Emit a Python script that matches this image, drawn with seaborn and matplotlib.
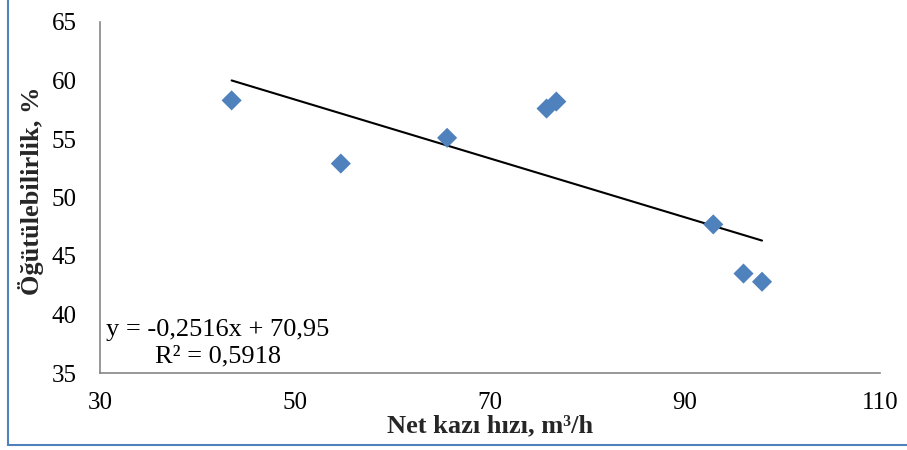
import numpy as np
import pandas as pd
import seaborn as sns
import matplotlib
matplotlib.use("Agg")
import matplotlib.pyplot as plt
from matplotlib.lines import Line2D

# Measured pairs: net excavation rate vs. grindability
net_kazi_hizi = [43.5, 54.7, 65.6, 75.8, 76.8, 92.9, 96.0, 97.9]
ogutulebilirlik = [58.3, 52.9, 55.1, 57.6, 58.2, 47.7, 43.5, 42.8]

# Linear trend line coefficients as reported on the chart
slope = -0.2516
intercept = 70.95
r_squared = 0.5918

x_ticks = [30, 50, 70, 90, 110]
y_ticks = [35, 40, 45, 50, 55, 60, 65]

sns.set_theme(style="white")
plt.rcParams["font.family"] = ["Liberation Serif", "DejaVu Serif"]

df = pd.DataFrame({"x": net_kazi_hizi, "y": ogutulebilirlik})
trend_x = [min(net_kazi_hizi), max(net_kazi_hizi)]
trend = pd.DataFrame({"x": trend_x, "y": [slope * v + intercept for v in trend_x]})

fig = plt.figure(figsize=(9.07, 4.5), dpi=100)
ax = fig.add_axes([100 / 907, 1 - 373 / 450, 780 / 907, 351 / 450])

sns.lineplot(data=trend, x="x", y="y", ax=ax, color="black", linewidth=1.5, zorder=2)
sns.scatterplot(data=df, x="x", y="y", ax=ax, marker="D", s=105,
                color="#4F81BD", edgecolor="none", linewidth=0, zorder=3)

ax.set_xlim(30, 110)
ax.set_ylim(35, 65)
ax.set_xticks(x_ticks)
ax.set_yticks(y_ticks)
ax.tick_params(axis="both", length=0, labelsize=18, colors="black")
ax.tick_params(axis="x", pad=14)
ax.tick_params(axis="y", pad=17)

for side in ("top", "right"):
    ax.spines[side].set_visible(False)
for side in ("left", "bottom"):
    ax.spines[side].set_color("#868686")
    ax.spines[side].set_linewidth(1.2)

ax.set_xlabel("Net kazı hızı, m³/h", fontsize=19, fontweight="bold", labelpad=0)
ax.set_ylabel("Öğütülebilirlik, %", fontsize=19, fontweight="bold")
ax.yaxis.set_label_coords(-0.072, 0.518)

eq_text = f"y = {slope:.4f}x + {intercept:.2f}".replace(".", ",") + "\n" + \
          f"R² = {r_squared:.4f}".replace(".", ",")
ax.text(0.151, 0.085, eq_text, transform=ax.transAxes, ha="center", va="center",
        multialignment="center", fontsize=19, linespacing=1.25, color="black")

# Chart frame
frame_color = "#4F81BD"
fig.add_artist(Line2D([8 / 907, 8 / 907], [1 - 445 / 450, 1.0], transform=fig.transFigure,
                      color=frame_color, linewidth=1.5))
fig.add_artist(Line2D([8 / 907, 1.0], [1 - 445 / 450, 1 - 445 / 450], transform=fig.transFigure,
                      color=frame_color, linewidth=1.5))

fig.savefig("out.png", dpi=100, facecolor="white")
